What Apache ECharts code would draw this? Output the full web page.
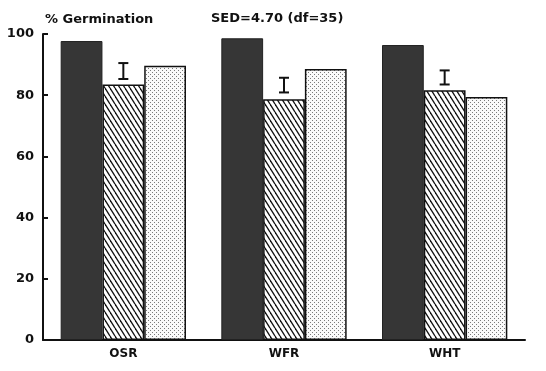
<!DOCTYPE html>
<html>
<head>
<meta charset="utf-8">
<script src="https://cdn.jsdelivr.net/npm/echarts@6/dist/echarts.min.js"></script>
<style>
html,body{margin:0;padding:0;background:#fff;}
#chart{width:546px;height:371px;}
</style>
</head>
<body>
<div id="chart"></div>
<script>
// ---- data ----
const categories = ['OSR', 'WFR', 'WHT'];
const darkValues = [97.7, 98.6, 96.4];
const hatchValues = [83.5, 78.7, 81.6];
const dotValues = [89.6, 88.6, 79.4];
const errLow = [85.3, 80.9, 83.5];
const errHigh = [90.5, 85.7, 88.1];
const yTicks = [0, 20, 40, 60, 80, 100];
const yTitle = '% Germination';
const sedText = 'SED=4.70 (df=35)';

// ---- patterns ----
function makeHatch() {
  const w = 5, h = 8;
  const c = document.createElement('canvas');
  c.width = w; c.height = h;
  const ctx = c.getContext('2d');
  ctx.fillStyle = '#fff';
  ctx.fillRect(0, 0, w, h);
  ctx.strokeStyle = '#111';
  ctx.lineWidth = 1.3;
  for (let k = -1; k <= 1; k++) {
    ctx.beginPath();
    ctx.moveTo(k * w, 0);
    ctx.lineTo(k * w + w, h);
    ctx.stroke();
  }
  return c;
}
function makeDots() {
  const s = 4;
  const c = document.createElement('canvas');
  c.width = s; c.height = s;
  const ctx = c.getContext('2d');
  ctx.fillStyle = '#fafafa';
  ctx.fillRect(0, 0, s, s);
  ctx.fillStyle = '#7a7a7a';
  ctx.fillRect(0, 0, 1, 1);
  ctx.fillRect(2, 2, 1, 1);
  return c;
}

const font = '"DejaVu Sans", sans-serif';
const chart = echarts.init(document.getElementById('chart'), null, {renderer: 'canvas'});

const option = {
  backgroundColor: '#fff',
  animation: false,
  title: [
    {text: yTitle, left: 40, top: 8, textStyle: {fontFamily: font, fontWeight: 'bold', fontSize: 13, color: '#111'}},
    {text: sedText, left: 206, top: 7, textStyle: {fontFamily: font, fontWeight: 'bold', fontSize: 13, color: '#111'}}
  ],
  grid: {left: 43, right: 21, top: 34, bottom: 31, containLabel: false},
  xAxis: {
    type: 'category',
    data: categories,
    axisLine: {lineStyle: {color: '#111', width: 2}},
    axisTick: {show: false},
    axisLabel: {fontFamily: font, fontWeight: 'bold', fontSize: 12, color: '#111', margin: 8}
  },
  yAxis: {
    type: 'value',
    min: yTicks[0],
    max: yTicks[yTicks.length - 1],
    interval: 20,
    axisLine: {show: true, lineStyle: {color: '#111', width: 2}},
    axisTick: {show: true, inside: true, length: 5, lineStyle: {color: '#111', width: 2}},
    splitLine: {show: false},
    axisLabel: {fontFamily: font, fontWeight: 'bold', fontSize: 13, color: '#111', margin: 9}
  },
  series: [
    {
      type: 'bar', data: darkValues, barGap: '0%', barCategoryGap: '22%',
      itemStyle: {color: '#363636', borderColor: '#222', borderWidth: 1}
    },
    {
      type: 'bar', data: hatchValues,
      itemStyle: {color: {image: makeHatch(), repeat: 'repeat'}, borderColor: '#111', borderWidth: 1.5}
    },
    {
      type: 'bar', data: dotValues,
      itemStyle: {color: {image: makeDots(), repeat: 'repeat'}, borderColor: '#111', borderWidth: 1.5}
    },
    {
      type: 'custom',
      data: categories.map((c, i) => [i, errLow[i], errHigh[i]]),
      renderItem: function (params, api) {
        const lo = api.coord([api.value(0), api.value(1)]);
        const hi = api.coord([api.value(0), api.value(2)]);
        const x = lo[0];
        const hw = 5;
        const st = {stroke: '#111', lineWidth: 2};
        return {
          type: 'group',
          children: [
            {type: 'line', shape: {x1: x, y1: lo[1], x2: x, y2: hi[1]}, style: st},
            {type: 'line', shape: {x1: x - hw, y1: lo[1], x2: x + hw, y2: lo[1]}, style: st},
            {type: 'line', shape: {x1: x - hw, y1: hi[1], x2: x + hw, y2: hi[1]}, style: st}
          ]
        };
      },
      z: 10
    }
  ]
};
chart.setOption(option);

// extend the baseline to the right edge as in the original figure
const base = chart.convertToPixel({gridIndex: 0}, [categories.length - 0.5, yTicks[0]]);
chart.setOption({
  graphic: [{
    type: 'line',
    shape: {x1: base[0], y1: base[1], x2: chart.getWidth(), y2: base[1]},
    style: {stroke: '#111', lineWidth: 2}
  }]
});
</script>
</body>
</html>
